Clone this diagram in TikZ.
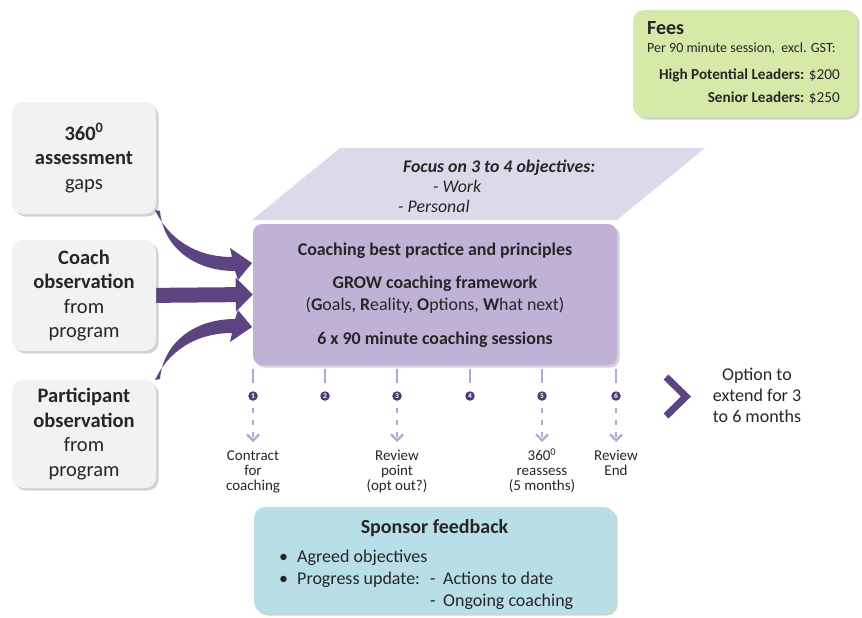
\documentclass[tikz,border=0pt]{standalone}
\usepackage{fontspec}
\setmainfont{Carlito}
\usetikzlibrary{shadows,arrows.meta,calc}
\pgfdeclarelayer{bg}
\pgfsetlayers{bg,main}
\definecolor{pdark}{HTML}{5B4480}
\definecolor{pmain}{HTML}{BFB2D6}
\definecolor{plight}{HTML}{DED9EA}
\definecolor{pdash}{HTML}{B7A6D3}
\definecolor{pnum}{HTML}{4E3A6C}
\definecolor{gfill}{HTML}{D6E9A9}
\definecolor{grayfill}{HTML}{F2F2F2}
\definecolor{bfill}{HTML}{B8DEE8}
\definecolor{tc}{HTML}{262626}
\newcommand{\fs}[2]{\fontsize{#1}{#2}\selectfont}
\begin{document}
\begin{tikzpicture}[x=1pt,y=-1pt,
  shad/.style={drop shadow={shadow xshift=2.5pt,shadow yshift=-2.5pt,opacity=0.25,fill=black!70}},
  card/.style={rounded corners=11pt,shad,inner sep=0pt,text=tc},
  leftbox/.style={card,fill=grayfill,minimum width=144pt,align=center,font=\fs{20.5}{24.5}},
  t/.style={inner sep=0pt,text=tc},
  bigarrow/.style={draw=pdark,line width=15pt,-{Triangle[length=17pt,width=33pt]}},
  curvedarrow/.style={fill=pdark},
  tick/.style={draw=pdash,line width=2.5pt},
  dasharrow/.style={draw=pdash,line width=2.3pt,dash pattern=on 5pt off 7pt,-{Straight Barb[length=6pt,width=12pt]}},
  numc/.style={circle,fill=pnum,text=white,inner sep=0pt,minimum size=9.5pt,font=\fs{7.5}{7.5}\bfseries},
  lab/.style={t,align=center,font=\fs{15}{15},anchor=north},
  sp/.style={t,anchor=base west,font=\fs{18}{18}},
]
\useasboundingbox (0,0) rectangle (862,618);

% Fees
\node[card,fill=gfill,minimum width=224pt,minimum height=107pt] (fees) at (745,63.5) {};
\node[t,anchor=base west,font=\fs{20}{20}\bfseries] (feesT) at (647,35) {Fees};
\node[t,anchor=base west,font=\fs{14}{14}] (fees1) at (647,53) {Per 90 minute session,\ \ excl. GST:};
\node[t,anchor=base east,font=\fs{15.2}{15}] (fees2) at (840,79) {\textbf{High Potential Leaders:} \$200};
\node[t,anchor=base east,font=\fs{15.2}{15}] (fees3) at (840,102) {\textbf{Senior Leaders:} \$250};

% left boxes
\node[leftbox,minimum height=112pt] (b1) at (84,158) {\textbf{360\textsuperscript{0}}\\\textbf{assessment}\\gaps};
\node[leftbox,minimum height=111pt] (b2) at (84,295.5) {\textbf{Coach}\\\textbf{observation}\\from\\program};
\node[leftbox,minimum height=108pt] (b3) at (84,434) {\textbf{Participant}\\\textbf{observation}\\from\\program};

% parallelogram
\fill[plight] (252,220) -- (617,220) -- (705,148) -- (340,148) -- cycle;
\node[t,anchor=base west,font=\fs{17.8}{17}\bfseries\itshape] (f1) at (403,172) {Focus on 3 to 4 objectives:};
\node[t,anchor=base west,font=\fs{17.8}{17}\itshape] (f2) at (433,192) {- Work};
\node[t,anchor=base west,font=\fs{17.8}{17}\itshape] (f3) at (398,212) {- Personal};

% main box
\node[card,fill=pmain,rounded corners=9pt,minimum width=364pt,minimum height=141pt] (main) at (435,294.5) {};
\node[t,anchor=base,font=\fs{17.9}{17}\bfseries] (m1) at (435,255) {Coaching best practice and principles};
\node[t,anchor=base,font=\fs{17.9}{17}\bfseries] (m2) at (435,288) {GROW coaching framework};
\node[t,anchor=base,font=\fs{17.9}{17}] (m3) at (435,310) {(\textbf{G}oals, \textbf{R}eality, \textbf{O}ptions, \textbf{W}hat next)};
\node[t,anchor=base,font=\fs{17.9}{17}\bfseries] (m4) at (435,344) {6 x 90 minute coaching sessions};

% arrows into main box
\begin{pgfonlayer}{bg}
\fill[curvedarrow] (155,210) .. controls (168,238) and (195,257) .. (232,257)
  -- (230,248) -- (252,263) -- (238,280) -- (235,271)
  .. controls (193,271) and (163,246) .. (160,211) -- cycle;
\draw[bigarrow] ($(b2.east)+(-14,0)$) -- (main.west);
\fill[curvedarrow] (155,380) .. controls (168,352) and (195,333) .. (232,333)
  -- (230,342) -- (252,327) -- (238,310) -- (235,319)
  .. controls (193,319) and (163,344) .. (160,379) -- cycle;
\end{pgfonlayer}

% timeline
\foreach \i/\x in {1/253,2/325,3/397,4/470,5/542,6/616}{
  \node[numc] (n\i) at (\x,396) {\i};
  \draw[tick] (n\i) ++(0,-27) -- ++(0,14);
}
\node[lab] (l1) at (253,448) {\rule{0pt}{12pt}Contract\\for\\coaching};
\node[lab] (l3) at (397,448) {\rule{0pt}{12pt}Review\\point\\(opt out?)};
\node[lab] (l5) at (542,448) {\rule{0pt}{12pt}360\textsuperscript{0}\\reassess\\(5 months)};
\node[lab] (l6) at (616,448) {\rule{0pt}{12pt}Review\\End};
\foreach \i in {1,3,5,6}{
  \draw[dasharrow] ([yshift=-12pt]n\i.center) -- ([yshift=6pt]l\i.north);
}

% option chevron
\draw[pdark,line width=7pt] (666,377) -- (686,396.5) -- (666,416);
\node[t,align=center,font=\fs{18}{21},anchor=north] (opt) at (757,367.5) {Option to\\extend for 3\\to 6 months};

% sponsor feedback
\node[card,fill=bfill,minimum width=361pt,minimum height=106pt] (spb) at (434.5,560) {};
\node[t,anchor=base,font=\fs{20}{20}\bfseries] (spT) at (434.5,533) {Sponsor feedback};
\node[sp] (sb1) at (279,562) {•};
\node[sp] (s1) at (297,562) {Agreed objectives};
\node[sp] (sb2) at (279,584) {•};
\node[sp] (s2) at (297,584) {Progress update:};
\node[sp] (sd1) at (430,584) {-};
\node[sp] (s3) at (443,584) {Actions to date};
\node[sp] (sd2) at (430,606) {-};
\node[sp] (s4) at (443,606) {Ongoing coaching};
\end{tikzpicture}
\end{document}
